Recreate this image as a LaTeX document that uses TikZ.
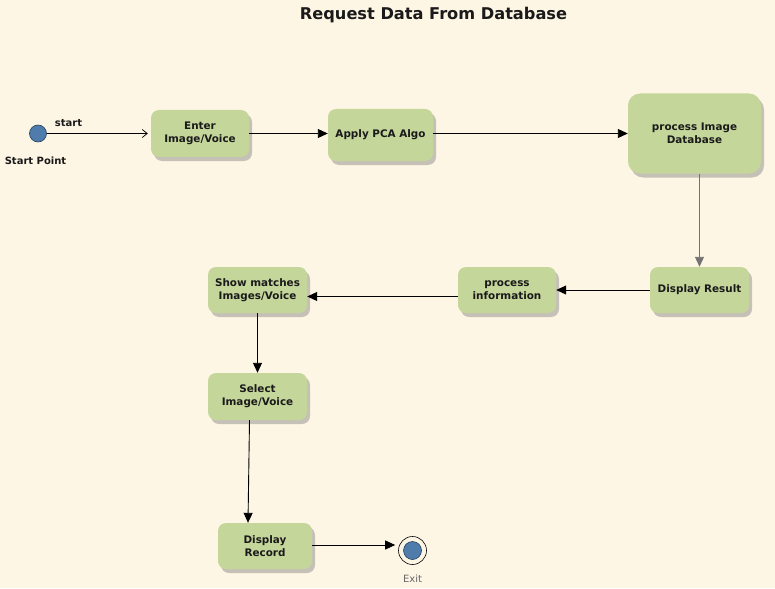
\documentclass[tikz,border=0pt]{standalone}
\usepackage{fontspec}
\setmainfont{DejaVu Sans}
\usetikzlibrary{arrows.meta,shadows}
\definecolor{bg}{HTML}{FEF6E5}
\definecolor{boxfill}{HTML}{C5D69B}
\definecolor{ballblue}{HTML}{4F7CAB}
\definecolor{balledge}{HTML}{263F5C}
\definecolor{txt}{HTML}{1A1A1A}
\tikzset{
  act/.style={rectangle, rounded corners=8pt, fill=boxfill, align=center,
    font=\bfseries\fontsize{10.4}{12.8}\selectfont, text=txt, inner sep=0pt,
    drop shadow={shadow xshift=3pt, shadow yshift=-4pt, fill=black!55, opacity=0.4}},
  flow/.style={draw=black, line width=0.9pt, -{Triangle[length=10pt,width=9pt]}},
  openflow/.style={draw=black, line width=0.9pt, -{Straight Barb[length=5pt,width=8pt,line width=0.7pt]}},
  ball/.style={circle, fill=ballblue, draw=balledge, line width=0.6pt, minimum size=17pt, inner sep=0pt},
  lbl/.style={font=\bfseries\fontsize{10}{12}\selectfont, text=txt, inner sep=0pt}
}
\begin{document}
\begin{tikzpicture}[x=1pt,y=-1pt]
\fill[bg] (0,0) rectangle (775,588);
\useasboundingbox (0,0) rectangle (775,588);

\node[font=\bfseries\fontsize{16.2}{19}\selectfont, text=txt] (title) at (433.5,15) {Request Data From Database};

\node[ball] (start) at (38,133.5) {};
\node[lbl] (startlbl) at (68.5,123.5) {start};
\node[lbl] (startpt) at (35.5,160.5) {Start Point};

\node[act, minimum width=98pt, minimum height=47pt] (enter) at (200,133.5) {Enter\\Image/Voice};
\node[act, minimum width=105pt, minimum height=52pt] (pca) at (380.5,135) {Apply PCA Algo};
\node[act, minimum width=133pt, minimum height=80pt, rounded corners=12pt] (pdb) at (694.5,133.5) {process Image\\Database};
\node[act, minimum width=99pt, minimum height=46pt] (dr) at (699.5,290) {Display Result};
\node[act, minimum width=98pt, minimum height=46pt] (pi) at (507,290) {process\\information};
\node[act, minimum width=99pt, minimum height=46pt] (sm) at (257.5,290) {Show matches\\Images/Voice};
\node[act, minimum width=99pt, minimum height=47pt] (sel) at (257.5,396.5) {Select\\Image/Voice};
\node[act, minimum width=94pt, minimum height=46pt] (rec) at (265,546) {Display\\Record};

\node[circle, draw=black, line width=0.6pt, fill=bg, minimum size=28pt, inner sep=0pt] (exit) at (412.5,550.5) {};
\node[ball, minimum size=18pt] (exitin) at (exit.center) {};
\node[font=\fontsize{10}{12}\selectfont, text=black!60, inner sep=0pt] (exitlbl) at (412.5,578.5) {Exit};

\draw[openflow] (start.east) -- ([xshift=-3pt]enter.west);
\draw[flow] (enter.east) -- (pca.west |- enter.east);
\draw[flow] (pca.east |- enter.east) -- (pdb.west |- enter.east);
\draw[flow, draw=black!55] (pdb.south -| dr.north) -- (dr.north);
\draw[flow] (dr.west) -- (pi.east);
\draw[flow] ([yshift=-6.5pt]pi.west) -- ([yshift=-6.5pt]sm.east);
\draw[flow] (sm.south) -- (sel.north);
\draw[flow] ([xshift=-8pt]sel.south) -- ([xshift=-17pt]rec.north);
\draw[flow] ([yshift=1pt]rec.east) -- ([xshift=-3pt]exit.west |- {(0,545)});
\end{tikzpicture}
\end{document}
